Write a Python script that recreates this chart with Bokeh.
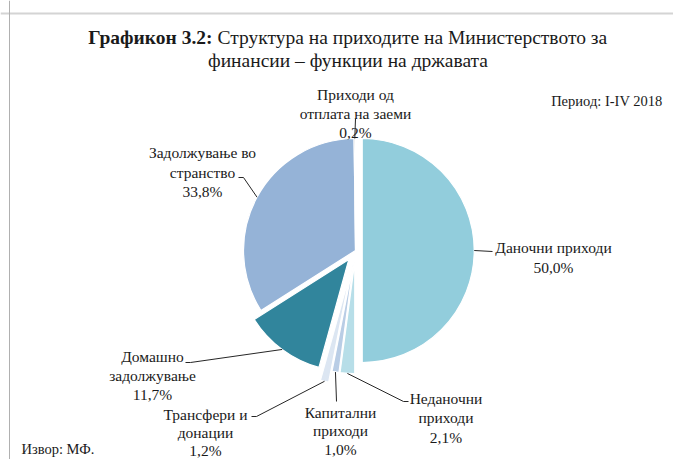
import math
from bokeh.plotting import figure
from bokeh.models import Range1d, Span
from bokeh.core.properties import value
from bokeh.embed import file_html
from bokeh.resources import INLINE

# ---------------- data ----------------
categories = ["Даночни приходи", "Неданочни приходи", "Капитални приходи",
              "Трансфери и донации", "Домашно задолжување",
              "Задолжување во странство", "Приходи од отплата на заеми"]
values = [50.0, 2.1, 1.0, 1.2, 11.7, 33.8, 0.2]
label_lines = [["Даночни приходи"], ["Неданочни", "приходи"], ["Капитални", "приходи"],
               ["Трансфери и", "донации"], ["Домашно", "задолжување"],
               ["Задолжување во", "странство"], ["Приходи од", "отплата на заеми"]]
title_bold = "Графикон 3.2:"
title_rest1 = "Структура на приходите на Министерството за"
title_line2 = "финансии – функции на државата"
period_text = "Период: I-IV 2018"
source_text = "Извор: МФ."

# ---------------- style / layout ----------------
colors = ["#92CDDC", "#B7DEE8", "#B9CDE5", "#DCE6F2", "#31859C", "#95B3D7", "#A5A5A5"]
explode = [0.06, 0.1, 0.1, 0.2, 0.1, 0.0, 0.0]
W, H = 673, 459
FONT = "Liberation Serif"
TXT = "#1a1a1a"
LABEL_SIZE = "15.5px"


def px(xr):
    return xr


def py(yr):
    return H - yr


cx, cy, R = px(355), py(250), 112
# label first-line centres (reference pixels) and line gaps
label_pos = [(553, 247), (445.5, 397.7), (340, 411.5), (205, 413.5), (152, 356), (202, 152), (355, 93.5)]
label_gap = [19.5, 19.5, 18.5, 18.0, 19.0, 19.5, 19.0]
# leader line points on label side (reference pixels), ordered from label towards slice
leader_pts = [[(492, 251)], [(408, 401), (403, 401)], [(336, 401)], [(251, 416), (256, 416)],
              [(185, 362), (190, 362)], [(238, 177), (243, 177)], [(355, 118)]]

p = figure(width=W, height=H, output_backend="svg", toolbar_location=None,
           x_range=Range1d(0, W), y_range=Range1d(0, H), min_border=0,
           x_axis_location=None, y_axis_location=None)
p.grid.visible = False
p.outline_line_color = None
p.background_fill_color = "white"
p.border_fill_color = "white"

# frame lines
p.add_layout(Span(location=py(13), dimension="width", line_color="#D4D4D4", line_width=2))
p.add_layout(Span(location=px(9), dimension="height", line_color="#B0B0B0", line_width=1))

total = sum(values)
cum = 0.0
wx, wy, sa, ea, mids = [], [], [], [], []
for v, e in zip(values, explode):
    f0 = cum / total
    f1 = (cum + v) / total
    cum += v
    fm = (f0 + f1) / 2
    a = math.pi / 2 - 2 * math.pi * fm
    ox = cx + e * R * math.cos(a)
    oy = cy + e * R * math.sin(a)
    wx.append(ox)
    wy.append(oy)
    sa.append(math.pi / 2 - 2 * math.pi * f1)
    ea.append(math.pi / 2 - 2 * math.pi * f0)
    mids.append((ox + R * math.cos(a), oy + R * math.sin(a)))

p.wedge(x=wx, y=wy, radius=R, start_angle=sa, end_angle=ea, direction="anticlock",
        fill_color=colors, line_color="white", line_width=1.2)

# leader lines
xs, ys = [], []
for pts, m in zip(leader_pts, mids):
    xs.append([px(a) for a, b in pts] + [m[0]])
    ys.append([py(b) for a, b in pts] + [m[1]])
p.multi_line(xs=xs, ys=ys, line_color="#262626", line_width=1)

# labels
tx, ty, tt = [], [], []
for lines, v, (lx, ly), g in zip(label_lines, values, label_pos, label_gap):
    pct = f"{v:.1f}".replace(".", ",") + "%"
    for i, s in enumerate(lines + [pct]):
        tx.append(px(lx))
        ty.append(py(ly + i * g))
        tt.append(s)
p.text(x=tx, y=ty, text=tt, text_align="center", text_baseline="middle",
       text_font=value(FONT), text_font_size=LABEL_SIZE, text_color=TXT)

# title
split = 212
p.text(x=[px(split)], y=[py(37)], text=[title_bold], text_align="right", text_baseline="middle",
       text_font=value(FONT), text_font_style="bold", text_font_size="19.5px", text_color=TXT)
p.text(x=[px(split + 5)], y=[py(37)], text=[title_rest1], text_align="left", text_baseline="middle",
       text_font=value(FONT), text_font_size="19.5px", text_color=TXT)
p.text(x=[px(347.5)], y=[py(60)], text=[title_line2], text_align="center", text_baseline="middle",
       text_font=value(FONT), text_font_size="19.5px", text_color=TXT)

p.text(x=[px(662)], y=[py(100.7)], text=[period_text], text_align="right", text_baseline="middle",
       text_font=value(FONT), text_font_size="14.5px", text_color=TXT)
p.text(x=[px(21)], y=[py(448)], text=[source_text], text_align="left", text_baseline="middle",
       text_font=value(FONT), text_font_size="14.5px", text_color=TXT)

open("out.html", "w").write(file_html(p, INLINE))
